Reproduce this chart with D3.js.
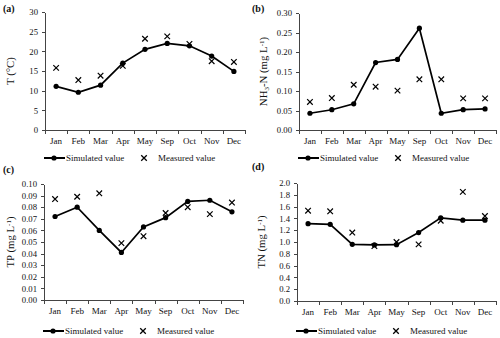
<!DOCTYPE html>
<html lang="en">
<head>
<meta charset="UTF-8">
<title>Simulated vs measured</title>
<script src="https://d3js.org/d3.v7.min.js"></script>
<style>
  body { margin: 0; background: #fff; }
  text { font-family: 'Liberation Serif', 'Times New Roman', serif; fill: #111; }
  .axis path, .axis line { stroke: #444; shape-rendering: crispEdges; }
  .axis text { font-size: 8.7px; }
</style>
</head>
<body>
<script>
const months = ['Jan', 'Feb', 'Mar', 'Apr', 'May', 'Sep', 'Oct', 'Nov', 'Dec'];

const tempSim = [11.1, 9.6, 11.4, 17.0, 20.5, 22.0, 21.4, 18.8, 14.9];
const tempMeas = [15.8, 12.7, 13.8, 16.3, 23.2, 23.8, 21.9, 17.5, 17.3];
const nh3Sim = [0.043, 0.052, 0.067, 0.173, 0.181, 0.261, 0.043, 0.052, 0.054];
const nh3Meas = [0.072, 0.082, 0.116, 0.111, 0.101, 0.130, 0.130, 0.081, 0.081];
const tpSim = [0.072, 0.080, 0.060, 0.041, 0.063, 0.071, 0.085, 0.086, 0.076];
const tpMeas = [0.087, 0.089, 0.092, 0.049, 0.055, 0.075, 0.080, 0.074, 0.084];
const tnSim = [1.31, 1.30, 0.96, 0.95, 0.955, 1.16, 1.41, 1.37, 1.37];
const tnMeas = [1.53, 1.52, 1.16, 0.93, 1.00, 0.96, 1.36, 1.85, 1.44];

const tempTicks = [0, 5, 10, 15, 20, 25, 30];
const nh3Ticks = [0, 0.05, 0.10, 0.15, 0.20, 0.25, 0.30];
const tpTicks = [0, 0.01, 0.02, 0.03, 0.04, 0.05, 0.06, 0.07, 0.08, 0.09, 0.10];
const tnTicks = [0, 0.2, 0.4, 0.6, 0.8, 1.0, 1.2, 1.4, 1.6, 1.8, 2.0];

const svg = d3.select('body').append('svg').attr('width', 500).attr('height', 338);

function panel(p) {
  const g = svg.append('g');
  const x = d3.scaleBand().domain(months).range([p.left, p.right]);
  const y = d3.scaleLinear().domain([p.ticks[0], p.ticks[p.ticks.length - 1]]).range([p.bottom, p.top]);

  // y axis
  g.append('g').attr('class', 'axis')
    .attr('transform', `translate(${p.left},0)`)
    .call(d3.axisLeft(y).tickValues(p.ticks).tickFormat(d3.format(p.fmt)).tickSize(3).tickSizeOuter(0).tickPadding(4))
    .call(a => a.selectAll('text').attr('fill', '#111'));

  // x axis baseline + ticks between categories
  const xa = g.append('g').attr('class', 'axis');
  xa.append('line').attr('x1', p.left).attr('x2', p.right).attr('y1', p.bottom + 0.5).attr('y2', p.bottom + 0.5);
  months.concat(['_end']).forEach(m => {
    const xx = m === '_end' ? x.range()[1] : x(m);
    xa.append('line').attr('x1', Math.round(xx) + 0.5).attr('x2', Math.round(xx) + 0.5)
      .attr('y1', p.bottom).attr('y2', p.bottom + 3.5);
  });
  g.selectAll('.mlab').data(months).join('text')
    .attr('x', d => x(d) + x.bandwidth() / 2).attr('y', p.bottom + 14)
    .attr('text-anchor', 'middle').attr('font-size', '9px').text(d => d);

  const cx = i => x(months[i]) + x.bandwidth() / 2;

  // simulated line + dots
  g.append('path')
    .attr('d', d3.line().x((d, i) => cx(i)).y(d => y(d))(p.sim))
    .attr('fill', 'none').attr('stroke', '#000').attr('stroke-width', 1.7);
  g.selectAll('.dot').data(p.sim).join('circle')
    .attr('cx', (d, i) => cx(i)).attr('cy', d => y(d)).attr('r', 2.6).attr('fill', '#000');

  // measured crosses
  const cross = d3.symbol().type(d3.symbolX).size(22);
  g.selectAll('.cross').data(p.meas).join('path')
    .attr('d', cross).attr('transform', (d, i) => `translate(${cx(i)},${y(d)})`)
    .attr('fill', 'none').attr('stroke', '#000').attr('stroke-width', 1.2);

  // panel label
  g.append('text').attr('x', p.labX).attr('y', p.labY).attr('font-size', '10px')
    .attr('font-weight', 'bold').text(p.label);

  // y title
  const t = g.append('text').attr('font-size', '10.8px').attr('text-anchor', 'middle')
    .attr('transform', `translate(${p.titleX},${(p.top + p.bottom) / 2}) rotate(-90)`);
  p.title.forEach(s => {
    const ts = t.append('tspan').text(s[0]);
    if (s[1] === 'sup') ts.attr('font-size', '7px').attr('dy', -3.5);
    else if (s[1] === 'sub') ts.attr('font-size', '7px').attr('dy', 2);
    else if (s[1] === 'back') ts.attr('dy', s[2]);
  });

  // legend
  const ly = p.legY;
  const lx = p.left - 1;
  g.append('line').attr('x1', lx).attr('x2', lx + 21).attr('y1', ly).attr('y2', ly)
    .attr('stroke', '#000').attr('stroke-width', 2);
  g.append('circle').attr('cx', lx + 10).attr('cy', ly).attr('r', 2.6).attr('fill', '#000');
  g.append('text').attr('x', lx + 22).attr('y', ly + 3.1).attr('font-size', '9px').text('Simulated value');
  g.append('path').attr('d', cross).attr('transform', `translate(${lx + 100},${ly})`)
    .attr('fill', 'none').attr('stroke', '#000').attr('stroke-width', 1.3);
  g.append('text').attr('x', lx + 114).attr('y', ly + 3.1).attr('font-size', '9px').text('Measured value');
}

panel({ left: 45, right: 245, top: 12, bottom: 130, ticks: tempTicks, fmt: 'd', sim: tempSim, meas: tempMeas,
  label: '(a)', labX: 3, labY: 12, titleX: 14, legY: 158,
  title: [['T (°C)']] });
panel({ left: 299, right: 496, top: 13, bottom: 130, ticks: nh3Ticks, fmt: '.2f', sim: nh3Sim, meas: nh3Meas,
  label: '(b)', labX: 252, labY: 12, titleX: 267, legY: 158,
  title: [['NH'], ['3', 'sub'], ['-N (mg L', 'back', -2], ['-1', 'sup'], [')', 'back', 3.5]] });
panel({ left: 44, right: 243, top: 184, bottom: 300, ticks: tpTicks, fmt: '.2f', sim: tpSim, meas: tpMeas,
  label: '(c)', labX: 3, labY: 173, titleX: 14, legY: 331,
  title: [['TP (mg L'], ['-1', 'sup'], [')', 'back', 3.5]] });
panel({ left: 297, right: 496, top: 183, bottom: 301, ticks: tnTicks, fmt: '.1f', sim: tnSim, meas: tnMeas,
  label: '(d)', labX: 252, labY: 170, titleX: 265, legY: 331,
  title: [['TN (mg L'], ['-1', 'sup'], [')', 'back', 3.5]] });
</script>
</body>
</html>
